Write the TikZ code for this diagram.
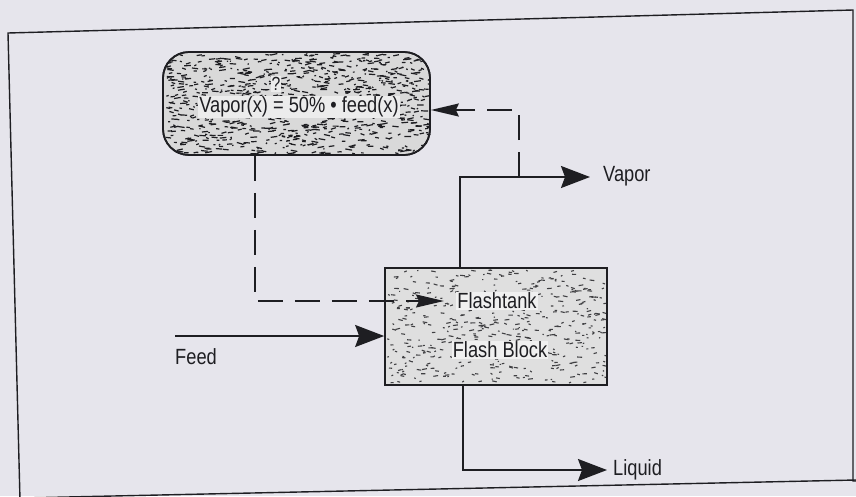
\documentclass[tikz,border=0pt]{standalone}
\usepackage{fontspec}
\setmainfont[FakeStretch=0.83]{Liberation Sans}
\usetikzlibrary{arrows.meta,calc}
\definecolor{paper}{HTML}{E6E5EC}
\definecolor{ink}{HTML}{1E1E22}
\tikzset{
  flow/.style={draw=ink,line width=1.8pt,-{Stealth[length=29pt,width=22pt,inset=4pt]}},
  fback/.style={draw=ink,line width=1.6pt,dash pattern=on 25pt off 12pt,-{Stealth[length=28pt,width=13pt,inset=3pt]}},
  boxframe/.style={draw=ink,line width=1.7pt},
  lbl/.style={font=\fontsize{22}{24}\selectfont,text=ink,inner sep=0pt},
}
\begin{document}
\begin{tikzpicture}[x=1pt,y=-1pt]
\useasboundingbox (0,0) rectangle (856,496);
\fill[paper] (0,0) rectangle (856,496);
% outer frame (scanned page, slightly rotated)
\draw[ink,line width=1.4pt] (20,500) -- (8,33) -- (853,10) -- (853,481) -- (856,481);
\draw[ink,line width=1.4pt] (20,498) -- (856,480);
% boxes
\node[boxframe,rounded corners=26pt,minimum width=267pt,minimum height=103pt,fill=gray!30] (calc) at (296.5,103.5) {};
\node[boxframe,minimum width=222pt,minimum height=117pt,fill=gray!25] (flash) at (496,326.5) {};
% speckle texture
\pgfmathsetseed{7}
\begin{scope}
  \clip[rounded corners=26pt] (calc.south west) rectangle (calc.north east);
  \foreach \i in {1,...,900}{
    \pgfmathsetmacro{\px}{165+265*rnd}
    \pgfmathsetmacro{\py}{54+100*rnd}
    \pgfmathsetmacro{\pl}{1+6*rnd}
    \draw[ink,line width=1.2pt] (\px,\py) -- ++(\pl,{1.5*rand});
  }
\end{scope}
\begin{scope}
  \clip (flash.south west) rectangle (flash.north east);
  \foreach \i in {1,...,480}{
    \pgfmathsetmacro{\px}{387+218*rnd}
    \pgfmathsetmacro{\py}{270+113*rnd}
    \pgfmathsetmacro{\pl}{1+4*rnd}
    \draw[ink!85,line width=1.1pt] (\px,\py) -- ++(\pl,{1.2*rand});
  }
\end{scope}
\node[boxframe,rounded corners=26pt,minimum width=267pt,minimum height=103pt] at (calc) {};
\node[boxframe,minimum width=222pt,minimum height=117pt] at (flash) {};
% texts
\node[lbl,font=\fontsize{19}{20}\selectfont,fill=gray!15,inner sep=1pt] (q) at (276,84) {?};
\node[lbl,fill=gray!15,inner sep=1pt] (eq) at (299,107) {Vapor(x) = 50\% \textbullet\ feed(x)};
\node[lbl,fill=gray!12,inner sep=1pt] (ft) at (497,301) {Flashtank};
\node[lbl,fill=gray!12,inner sep=1pt] (fb) at (500,350) {Flash Block};
% coordinates
\coordinate (feedstart) at (175,336);
\coordinate (vaporend) at (590,177);
\coordinate (liqend) at (607,470);
\coordinate (tap) at (519,177);
\coordinate (ftin) at (444,301);
% connectors
\draw[flow] (feedstart) -- (feedstart -| flash.west);
\draw[flow] ([xshift=-36pt]flash.north) |- (vaporend);
\draw[flow] ([xshift=-33pt]flash.south) |- (liqend);
\draw[fback] (tap) |- ([yshift=-6.5pt]calc.east);
\draw[fback] ([xshift=-41.5pt]calc.south) |- (ftin);
% outside labels
\node[lbl,anchor=west] (vap) at (603,176) {Vapor};
\node[lbl,anchor=west] (liq) at (613,470) {Liquid};
\node[lbl,anchor=west] (feed) at (175,357) {Feed};
\end{tikzpicture}
\end{document}
